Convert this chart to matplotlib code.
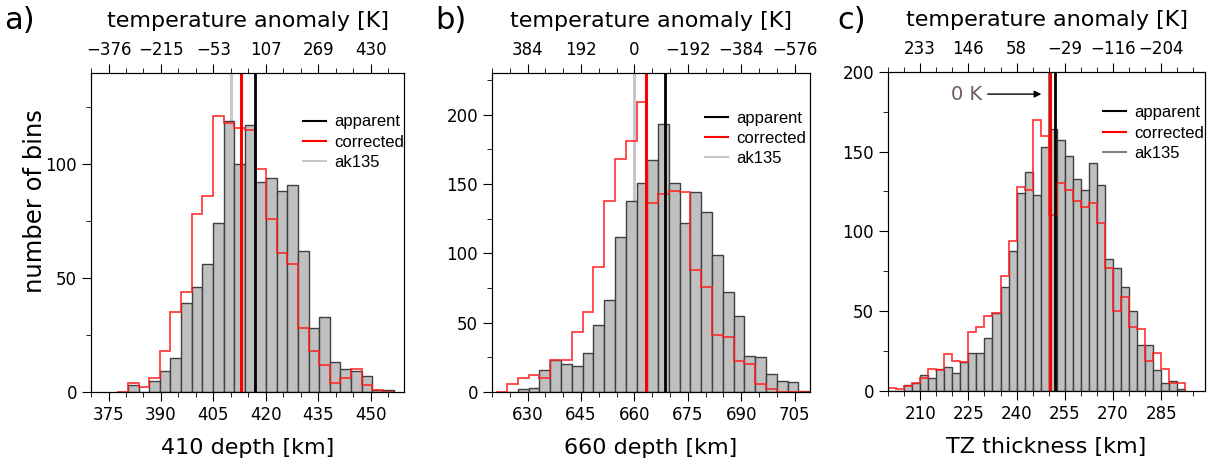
import numpy as np
import matplotlib.pyplot as plt
from matplotlib.lines import Line2D
from matplotlib.ticker import MultipleLocator

plt.rcParams['font.family'] = 'DejaVu Sans'

# a) 410 km
a_range = (377.5, 456.5)
a_apparent = [0, 3, 0, 5, 9, 15, 39, 46, 56, 74, 119, 100, 117, 92, 94, 88, 91,
              62, 28, 33, 13, 10, 9, 7, 1, 1]
a_corrected = [0, 4, 2, 6, 18, 35, 44, 78, 86, 121, 118, 116, 115, 98, 76, 61, 56,
               28, 18, 12, 4, 6, 10, 3, 1, 0]
a_means = [416.8, 412.8, 410.0]          # apparent, corrected, ak135
a_ticks = [375, 390, 405, 420, 435, 450]
a_temp = ['−376', '−215', '−53', '107', '269', '430']

# b) 660 km
b_range = (621.2, 709.1)
b_apparent = [0, 0, 2, 3, 16, 23, 20, 19, 28, 48, 66, 112, 138, 151, 167, 193, 151,
              122, 144, 130, 99, 72, 55, 26, 25, 13, 8, 7, 1]
b_corrected = [0, 6, 10, 12, 10, 23, 23, 43, 58, 90, 138, 168, 181, 209, 136, 143,
               145, 144, 88, 76, 41, 40, 22, 20, 6, 2, 0, 0, 0]
b_means = [668.6, 663.2, 660.0]
b_ticks = [630, 645, 660, 675, 690, 705]
b_temp = ['384', '192', '0', '−192', '−384', '−576']

# c) TZ thickness
c_range = (200.0, 292.5)
c_apparent = [0, 0, 4, 5, 10, 8, 14, 15, 11, 18, 24, 24, 33, 49, 65, 88, 124, 137,
              123, 153, 164, 157, 147, 133, 126, 143, 129, 83, 77, 65, 50, 29, 29,
              13, 5, 6, 1]
c_corrected = [2, 1, 3, 5, 8, 14, 13, 23, 19, 18, 37, 40, 47, 49, 72, 94, 128, 126,
               170, 160, 110, 130, 126, 119, 115, 118, 105, 77, 50, 59, 40, 39, 19,
               24, 14, 5, 5]
c_means = [252.0, 250.5, 250.0]
c_ticks = [210, 225, 240, 255, 270, 285]
c_temp = ['233', '146', '58', '−29', '−116', '−204']

fig = plt.figure(figsize=(12.09, 4.66), dpi=100)


def panel(rect, rng, apparent, corrected, means, ticks, temp, xlim, ymax,
          xlabel, ak_color, leg_xy):
    ax = fig.add_axes(rect)
    edges = np.linspace(rng[0], rng[1], len(apparent) + 1)
    ax.axvline(means[2], color=ak_color, lw=2.2, zorder=0.5)
    ax.bar(edges[:-1], apparent, width=np.diff(edges), align='edge',
           color='#c0c0c0', edgecolor='#404040', lw=1, zorder=1)
    ax.stairs(corrected, edges, color='#ff2020', lw=1.3, alpha=0.85, zorder=2)
    ax.axvline(means[1], color='red', lw=2.2, zorder=3)
    ax.axvline(means[0], color='black', lw=2, zorder=3)

    ax.set_xlim(xlim)
    ax.set_ylim(0, ymax)
    ax.set_xticks(ticks)
    ax.xaxis.set_minor_locator(MultipleLocator(5))
    ax.yaxis.set_major_locator(MultipleLocator(50))
    ax.yaxis.set_minor_locator(MultipleLocator(25))
    ax.tick_params(which='major', direction='out', length=6.5, labelsize=12)
    ax.tick_params(which='minor', direction='out', length=3.5)
    ax.set_xlabel(xlabel, fontsize=16, labelpad=10)

    top = ax.twiny()
    top.set_xlim(xlim)
    top.set_xticks(ticks)
    top.set_xticklabels(temp)
    top.xaxis.set_minor_locator(MultipleLocator(5))
    top.tick_params(which='major', direction='out', length=6.5, labelsize=12)
    top.tick_params(which='minor', direction='out', length=3.5)
    top.set_xlabel('temperature anomaly [K]', fontsize=16, labelpad=10)

    handles = [Line2D([], [], color='black', lw=1.5),
               Line2D([], [], color='red', lw=1.5),
               Line2D([], [], color=ak_color, lw=1.5)]
    ax.legend(handles, ['apparent', 'corrected', 'ak135'], loc='upper left',
              bbox_to_anchor=leg_xy, frameon=False, borderpad=0,
              borderaxespad=0, handlelength=1.4, handletextpad=0.45,
              labelspacing=0.32, prop={'family': 'Liberation Sans', 'size': 12})
    return ax


ax_a = panel([0.0753, 0.1588, 0.2589, 0.6845], a_range, a_apparent, a_corrected,
             a_means, a_ticks, a_temp, (370, 459.5), 140, '410 depth [km]',
             '#c8c8c8', (0.677, 0.87))
ax_a.set_ylabel('number of bins', fontsize=17.5)
ax_a.yaxis.set_label_coords(-0.14, 0.6)

ax_b = panel([0.4069, 0.1588, 0.2630, 0.6845], b_range, b_apparent, b_corrected,
             b_means, b_ticks, b_temp, (620, 709.3), 230, '660 depth [km]',
             '#c8c8c8', (0.67, 0.882))

ax_c = panel([0.7345, 0.1610, 0.2622, 0.6850], c_range, c_apparent, c_corrected,
             c_means, c_ticks, c_temp, (200, 298.6), 200, 'TZ thickness [km]',
             '#808080', (0.678, 0.895))
ax_c.annotate('0 K', xy=(247.7, 186), xytext=(229.3, 186), ha='right',
              va='center', fontsize=14, color='#705a5a',
              arrowprops=dict(arrowstyle='-|>', color='black', lw=1,
                              mutation_scale=10, shrinkA=2, shrinkB=0))

fig.text(0.003, 0.955, 'a)', fontsize=22, va='center')
fig.text(0.360, 0.955, 'b)', fontsize=22, va='center')
fig.text(0.693, 0.955, 'c)', fontsize=22, va='center')

fig.savefig('out.png', dpi=100)
